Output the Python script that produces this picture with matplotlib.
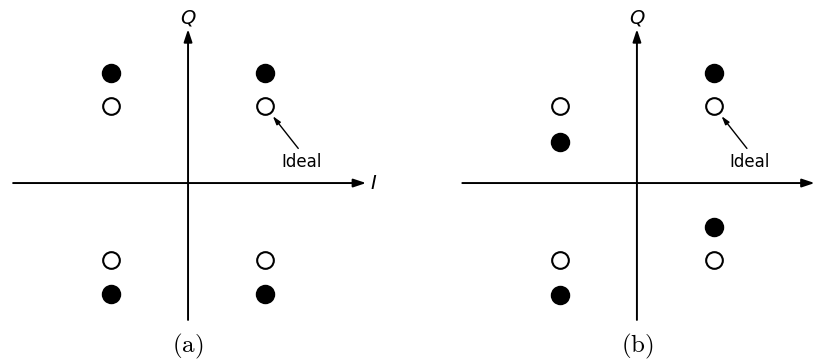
import numpy as np
import matplotlib.pyplot as plt

plt.rcParams['mathtext.fontset'] = 'cm'

# ideal QPSK constellation points
ideal_i = [1, -1, -1, 1]
ideal_q = [1, 1, -1, -1]

# (a) gain imbalance: Q branch stretched
gain_i = [1, -1, -1, 1]
gain_q = [1.43, 1.43, -1.44, -1.44]

# (b) phase imbalance: Q branch skewed by the I value
phase_i = [1, -1, -1, 1]
phase_q = [1.43, 0.53, -1.45, -0.57]

panels = [
    ("(a)", gain_i, gain_q, (-2.44, 2.88), True),
    ("(b)", phase_i, phase_q, (-2.95, 2.38), False),
]

fig = plt.figure(figsize=(8.2, 3.63), dpi=100)

for k, (name, pi, pq, xlim, show_i) in enumerate(panels):
    ax = fig.add_axes([0.5 * k, 0, 0.5, 1])
    ax.set_xlim(*xlim)
    ax.set_ylim(-2.34, 2.38)
    ax.axis('off')

    # axes with arrow heads
    ax.annotate('', xy=(2.31, 0), xytext=(-2.27, 0),
                arrowprops=dict(arrowstyle='-|>,head_length=0.75,head_width=0.25',
                                lw=1.4, color='black', shrinkA=0, shrinkB=0))
    ax.annotate('', xy=(0, 2.0), xytext=(0, -1.78),
                arrowprops=dict(arrowstyle='-|>,head_length=0.75,head_width=0.25',
                                lw=1.4, color='black', shrinkA=0, shrinkB=0))
    ax.text(0, 2.15, 'Q', style='italic', fontsize=14, ha='center', va='center')
    if show_i:
        ax.text(2.41, 0, 'I', style='italic', fontsize=14, ha='center', va='center')

    ax.plot(ideal_i, ideal_q, 'o', ms=12, mfc='white', mec='black', mew=1.5)
    ax.plot(pi, pq, 'o', ms=12.5, mfc='black', mec='black', mew=1.5)

    # pointer to the ideal point
    ax.annotate('', xy=(1.10, 0.87), xytext=(1.43, 0.45),
                arrowprops=dict(arrowstyle='-|>,head_length=0.5,head_width=0.15',
                                lw=1.0, color='black', shrinkA=0, shrinkB=0))
    ax.text(1.47, 0.27, 'Ideal', fontsize=12, ha='center', va='center')

    ax.text(0, -2.12, r'$\mathrm{%s}$' % name, fontsize=18, ha='center', va='center')

fig.savefig('out.png', dpi=100)
